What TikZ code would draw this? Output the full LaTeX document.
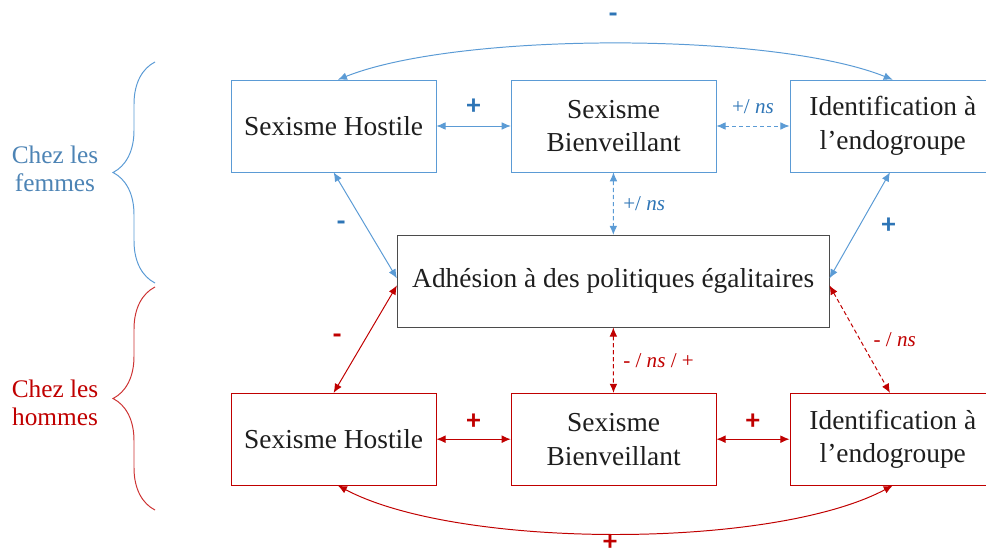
\documentclass[tikz,border=0pt]{standalone}
\usepackage{fontspec}
\setmainfont{Liberation Serif}
\newfontfamily\signfont{Carlito}
\usepackage{xcolor}
\usepackage{tikz}
\usetikzlibrary{arrows.meta, positioning, calc, decorations.pathreplacing}
\definecolor{femblue}{RGB}{91, 155, 213}
\definecolor{signblue}{RGB}{46, 117, 182}
\definecolor{homred}{RGB}{192, 0, 0}
\definecolor{textgray}{RGB}{30, 30, 30}

\begin{document}
\begin{tikzpicture}[
				conbox/.style={rectangle, thin, fill=white, minimum width=5.125cm, minimum height=2.3cm, align=center, inner sep=0pt, text=textgray, font=\fontsize{19.5}{24}\selectfont},
				femarrow/.style={draw=femblue, line width=0.7pt, {Latex[length=6.5pt,width=5.5pt]}-{Latex[length=6.5pt,width=5.5pt]}},
				homarrow/.style={draw=homred, line width=0.7pt, {Latex[length=6.5pt,width=5.5pt]}-{Latex[length=6.5pt,width=5.5pt]}},
				nsline/.style={dash pattern=on 3pt off 2pt},
				signlbl/.style={font=\signfont\bfseries\fontsize{20}{20}\selectfont, inner sep=1pt},
				nslbl/.style={font=\fontsize{15}{18}\selectfont, inner sep=1pt},
				grouplbl/.style={font=\fontsize{18}{20}\selectfont, align=center}
				]
				\useasboundingbox (0, 0) rectangle (24.65, -13.975);
				
				% Chez les femmes
				\node[conbox, draw=femblue] (sh_f) at (8.34, -3.15) {Sexisme Hostile};
				\node[conbox, draw=femblue] (sb_f) at (15.34, -3.15) {Sexisme\\Bienveillant};
				\node[conbox, draw=femblue, minimum width=5.15cm] (id_f) at (22.32, -3.15) {Identification à\\l’endogroupe};
				
				% Adhesion
				\node[conbox, draw=textgray!80, minimum width=10.8cm] (adh) at (15.33, -7.03) {Adhésion à des politiques égalitaires};
				
				% Chez les hommes
				\node[conbox, draw=homred] (sh_h) at (8.34, -10.98) {Sexisme Hostile};
				\node[conbox, draw=homred] (sb_h) at (15.34, -10.98) {Sexisme\\Bienveillant};
				\node[conbox, draw=homred, minimum width=5.15cm] (id_h) at (22.32, -10.98) {Identification à\\l’endogroupe};
				
				% Groups
				\node[grouplbl, text=femblue!85!black] (lbl_f) at (1.375, -4.23) {Chez les\\femmes};
				\node[grouplbl, text=homred] (lbl_h) at (1.375, -10.08) {Chez les\\hommes};
				\coordinate (br_f1) at (3.875, -7.075);
				\coordinate (br_f2) at (3.875, -1.55);
				\coordinate (br_h1) at (3.875, -12.75);
				\coordinate (br_h2) at (3.875, -7.175);
				\draw[femblue, line width=0.7pt, decorate, decoration={brace, amplitude=1.05cm}] (br_f1) -- (br_f2);
				\draw[homred!80, line width=0.7pt, decorate, decoration={brace, amplitude=1.05cm}] (br_h1) -- (br_h2);
				
				% Links femmes
				\draw[femarrow] (sh_f) -- node[signlbl, text=signblue, above=0.25cm] (s_f1) {+} (sb_f);
				\draw[femarrow, nsline] (sb_f) -- node[nslbl, text=signblue, above=0.25cm] (s_f2) {+/ \textit{ns}} (id_f);
				\draw[femarrow, nsline] (sb_f) -- node[nslbl, text=signblue, right=0.2cm] (s_f3) {+/ \textit{ns}} (adh);
				\draw[femarrow] (sh_f.south) -- node[signlbl, text=signblue, left=0.45cm] (s_f4) {-} ([yshift=2pt]adh.west);
				\draw[femarrow] ([xshift=-2pt]id_f.south) -- node[signlbl, text=signblue, right=0.5cm] (s_f5) {+} ([yshift=2pt]adh.east);
				\draw[femarrow] ([xshift=3pt]sh_f.north) .. controls +(3, 1.2) and +(-3, 1.2) .. (id_f.north);
				\node[signlbl, text=signblue] (s_f6) at (15.33, -0.45) {-};
				
				% Links hommes
				\draw[homarrow] (sh_h) -- node[signlbl, text=homred, above=0.2cm] (s_h1) {+} (sb_h);
				\draw[homarrow] (sb_h) -- node[signlbl, text=homred, above=0.2cm] (s_h2) {+} (id_h);
				\draw[homarrow, nsline] (adh) -- node[nslbl, text=homred, right=0.2cm] (s_h3) {- / \textit{ns} / +} (sb_h);
				\draw[homarrow] ([yshift=-3pt]adh.west) -- node[signlbl, text=homred, left=0.55cm] (s_h4) {-} (sh_h.north);
				\draw[homarrow, nsline] ([yshift=-3pt]adh.east) -- node[nslbl, text=homred, right=0.3cm] (s_h5) {- / \textit{ns}} ([xshift=-2pt]id_h.north);
				\draw[homarrow] ([xshift=3pt]sh_h.south) .. controls +(3, -1.6) and +(-3, -1.6) .. (id_h.south);
				\node[signlbl, text=homred] (s_h6) at (15.25, -13.58) {+};
			\end{tikzpicture}
\end{document}
